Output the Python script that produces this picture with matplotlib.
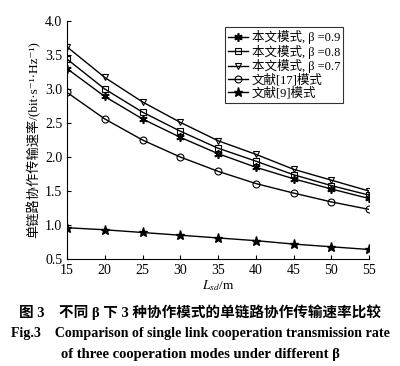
import matplotlib
matplotlib.use("Agg")
import matplotlib.pyplot as plt

plt.rcParams['font.family'] = ['Liberation Serif', 'Noto Sans CJK SC', 'DejaVu Sans']
plt.rcParams['mathtext.fontset'] = 'stix'

# distance L_sd (m)
lsd = [15, 20, 25, 30, 35, 40, 45, 50, 55]

# rates (bit/s/Hz)
rate_b09 = [3.30, 2.89, 2.56, 2.29, 2.05, 1.85, 1.68, 1.53, 1.39]
rate_b08 = [3.44, 3.00, 2.66, 2.38, 2.13, 1.94, 1.74, 1.58, 1.44]
rate_b07 = [3.62, 3.17, 2.81, 2.51, 2.24, 2.04, 1.82, 1.66, 1.50]
rate_ref17 = [2.95, 2.56, 2.25, 2.00, 1.79, 1.61, 1.47, 1.34, 1.23]
rate_ref9 = [0.96, 0.93, 0.89, 0.85, 0.81, 0.77, 0.72, 0.68, 0.64]

labels = ['本文模式, β =0.9', '本文模式, β =0.8', '本文模式, β =0.7',
          '文献[17]模式', '文献[9]模式']
markers = [(6, 2, 0), 's', 'v', 'o', '*']
series = [rate_b09, rate_b08, rate_b07, rate_ref17, rate_ref9]

fig = plt.figure(figsize=(4.0, 3.66), dpi=100)
ax = fig.add_axes([0.1675, 0.2923, 0.755, 0.6503])

for vals, lab, mk in zip(series, labels, markers):
    if mk == '*':
        ax.plot(lsd, vals, color='black', lw=1.0, marker=mk, ms=6.5, mfc='black', mec='black', label=lab)
    elif mk == (6, 2, 0):
        ax.plot(lsd, vals, color='black', lw=1.0, marker=mk, ms=6, mec='black', mew=1.2, label=lab)
    else:
        ax.plot(lsd, vals, color='black', lw=1.0, marker=mk, ms=5, mfc='none', mec='black', mew=0.8, label=lab)

ax.set_xlim(15, 55)
ax.set_ylim(0.5, 4.0)
ax.set_xticks(lsd)
ax.set_yticks([0.5, 1.0, 1.5, 2.0, 2.5, 3.0, 3.5, 4.0])
ax.set_yticklabels(['0.5', '1.0', '1.5', '2.0', '2.5', '3.0', '3.5', '4.0'])
ax.spines['top'].set_visible(False)
ax.spines['right'].set_visible(False)
ax.tick_params(direction='in', length=3, labelsize=10, width=0.8)
ax.set_xlabel('$L_{sd}$/m', fontsize=9.5, labelpad=1)
ax.set_ylabel('单链路协作传输速率/(bit·s⁻¹·Hz⁻¹)', fontsize=9.5, labelpad=3)

leg = ax.legend(loc='upper right', bbox_to_anchor=(0.915, 0.975), fontsize=9, frameon=True,
                fancybox=False, edgecolor='black', handlelength=1.6, handletextpad=0.3,
                labelspacing=0.05, borderpad=0.25, borderaxespad=0)
leg.get_frame().set_linewidth(0.8)

fig.text(0.5, 0.148, '图 3    不同 β 下 3 种协作模式的单链路协作传输速率比较',
         ha='center', va='center', fontsize=10.5, fontweight='bold')
fig.text(0.5, 0.088, 'Fig.3    Comparison of single link cooperation transmission rate',
         ha='center', va='center', fontsize=10.1, fontweight='bold')
fig.text(0.5, 0.031, 'of three cooperation modes under different β',
         ha='center', va='center', fontsize=10.5, fontweight='bold')

fig.savefig('out.png', dpi=100)
